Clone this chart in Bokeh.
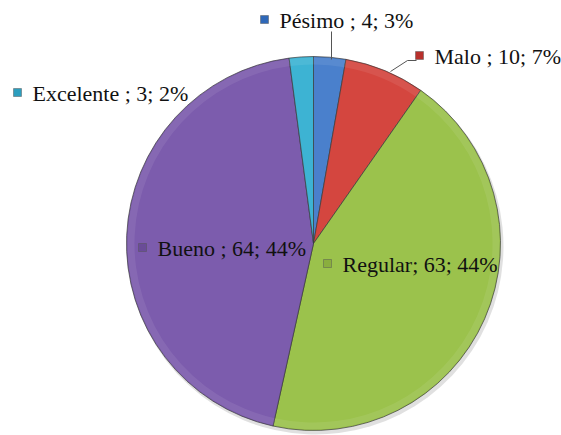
import numpy as np
from bokeh.plotting import figure
from bokeh.models import Range1d, ColumnDataSource, LabelSet
from bokeh.embed import file_html
from bokeh.resources import INLINE

# ---- data ----
categories = ["Pésimo", "Malo", "Regular", "Bueno", "Excelente"]
counts = [4, 10, 63, 64, 3]
percents = ["3%", "7%", "44%", "44%", "2%"]
label_sep = [" ; ", " ; ", "; ", " ; ", " ; "]

# ---- styling / layout (reference pixel coordinates) ----
colors = ["#4A80CC", "#D4463F", "#9BC24C", "#7C5CAD", "#3DB3D3"]
marker_colors = ["#2F68B8", "#B8302C", "#8AAE3E", "#6A4C98", "#2C9EBE"]
cx, cy, R = 313, 243, 187
label_x = [279, 434, 342, 157, 32]
label_y = [20, 56, 264, 248, 93]

W, H = 561, 435
p = figure(width=W, height=H, output_backend="svg", toolbar_location=None,
           x_range=Range1d(0, W), y_range=Range1d(-H, 0),
           min_border=0, outline_line_color=None)
p.axis.visible = False
p.grid.visible = False
p.background_fill_color = "white"
p.border_fill_color = "white"

vals = np.array(counts, dtype=float)
frac = vals / vals.sum()
cum = np.concatenate([[0], np.cumsum(frac)])
ang_start = np.pi / 2 - cum[1:] * 2 * np.pi
ang_end = np.pi / 2 - cum[:-1] * 2 * np.pi

src = ColumnDataSource(dict(start=ang_start, end=ang_end, color=colors))

# soft shadow
p.wedge(x=cx + 2, y=-(cy + 3), radius=R + 1, start_angle="start", end_angle="end",
        source=src, fill_color="#000000", fill_alpha=0.12, line_color=None)
# slices
p.wedge(x=cx, y=-cy, radius=R, start_angle="start", end_angle="end", source=src,
        fill_color="color", line_color="#3a3a3a", line_alpha=0.7, line_width=1)
# bevel highlight near the rim
p.annular_wedge(x=cx, y=-cy, inner_radius=R - 8, outer_radius=R - 1,
                start_angle="start", end_angle="end", source=src,
                fill_color="white", fill_alpha=0.08, line_color=None)

# leader lines
p.line(x=[331, 331], y=[-31, -59], line_color="#555555", line_width=1)
p.line(x=[416, 407, 390], y=[-60, -60, -71], line_color="#555555", line_width=1)

# labels
texts = [f"{c}{s}{n}; {pc}" for c, s, n, pc in zip(categories, label_sep, counts, percents)]
lsrc = ColumnDataSource(dict(
    x=label_x, y=[-v for v in label_y],
    mx=[x - 15 for x in label_x], my=[-(v - 1) for v in label_y],
    text=texts, mc=marker_colors))
p.scatter(x="mx", y="my", source=lsrc, marker="square", size=8,
          fill_color="mc", line_color="#555555", line_alpha=0.6, line_width=0.8)
labels = LabelSet(x="x", y="y", text="text", source=lsrc,
                  text_font="Liberation Serif", text_font_size="22px",
                  text_color="#111111", text_baseline="middle", text_align="left")
p.add_layout(labels)

open("out.html", "w").write(file_html(p, INLINE))
